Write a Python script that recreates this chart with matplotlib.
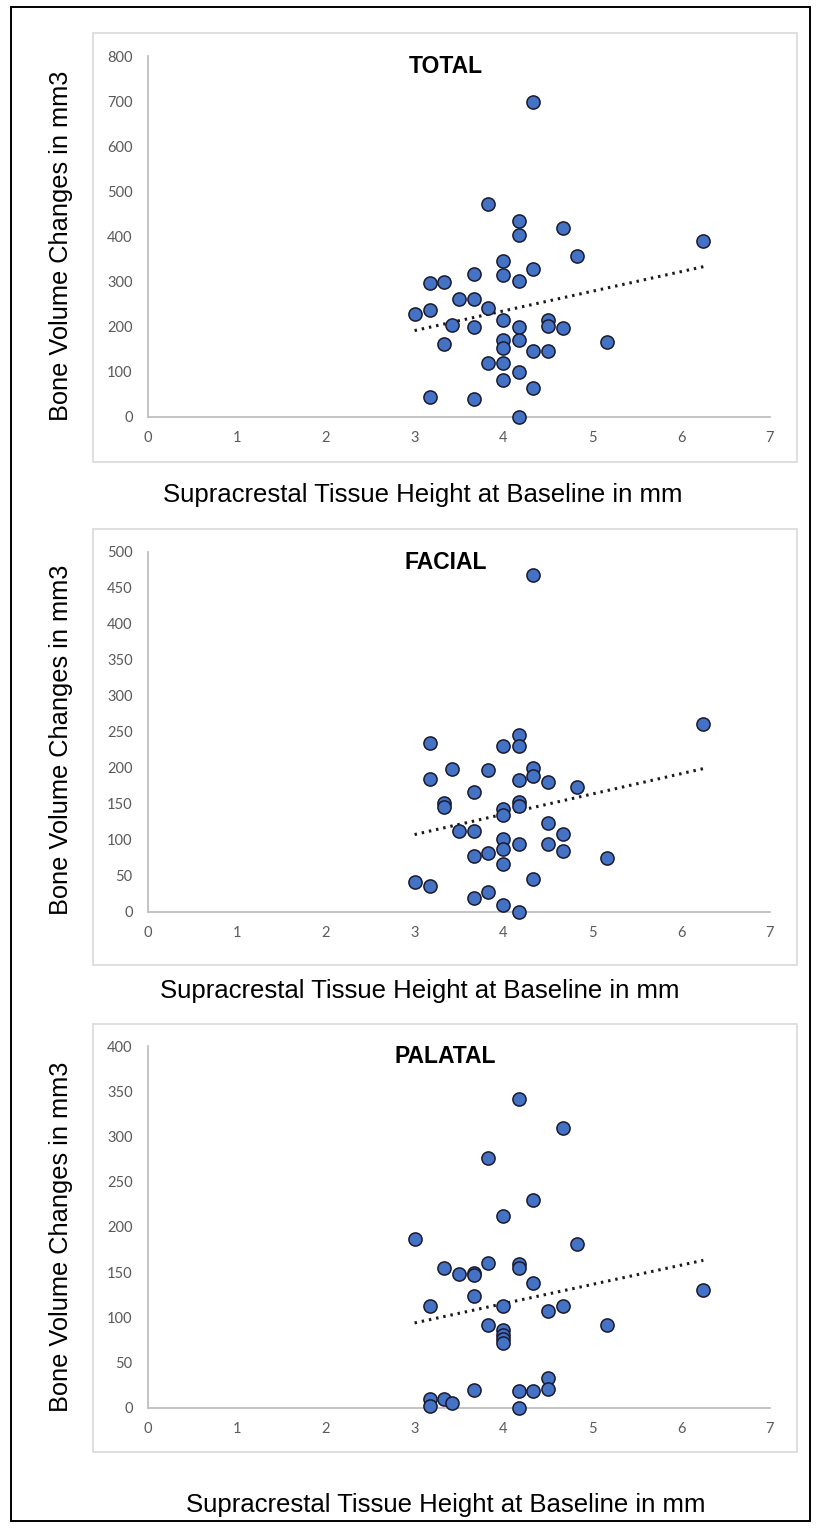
import numpy as np
import matplotlib
matplotlib.use("Agg")
import matplotlib.pyplot as plt
from matplotlib.patches import Rectangle

W, H = 820, 1528

# --- data ---
total_x = [3.0, 3.17, 3.17, 3.17, 3.33, 3.33, 3.42, 3.5,
           3.67, 3.67, 3.67, 3.67, 3.83, 3.83, 3.83,
           4.0, 4.0, 4.0, 4.0, 4.0, 4.0, 4.0,
           4.17, 4.17, 4.17, 4.17, 4.17, 4.17, 4.17,
           4.33, 4.33, 4.33, 4.33, 4.5, 4.5, 4.5,
           4.67, 4.67, 4.83, 5.17, 6.25]
total_y = [228, 298, 237, 44, 299, 161, 203, 261,
           317, 261, 200, 39, 473, 241, 120,
           345, 314, 215, 170, 153, 120, 81,
           435, 404, 302, 200, 170, 100, 1,
           698, 328, 146, 65, 214, 202, 146,
           418, 198, 356, 167, 390]

facial_x = [3.0, 3.17, 3.17, 3.17, 3.33, 3.33, 3.42, 3.5,
            3.67, 3.67, 3.67, 3.67, 3.83, 3.83, 3.83,
            4.0, 4.0, 4.0, 4.0, 4.0, 4.0, 4.0,
            4.17, 4.17, 4.17, 4.17, 4.17, 4.17, 4.17,
            4.33, 4.33, 4.33, 4.33, 4.5, 4.5, 4.5,
            4.67, 4.67, 4.83, 5.17, 6.25]
facial_y = [41, 234, 184, 35, 151, 145, 198, 112,
            166, 112, 77, 19, 197, 82, 27,
            230, 143, 134, 101, 87, 66, 9,
            245, 230, 183, 153, 147, 94, 0,
            468, 199, 189, 45, 180, 123, 94,
            108, 85, 173, 74, 261]

palatal_x = [3.0, 3.17, 3.17, 3.17, 3.33, 3.33, 3.42, 3.5,
             3.67, 3.67, 3.67, 3.67, 3.83, 3.83, 3.83,
             4.0, 4.0, 4.0, 4.0, 4.0, 4.0,
             4.17, 4.17, 4.17, 4.17, 4.17,
             4.33, 4.33, 4.33, 4.5, 4.5, 4.5,
             4.67, 4.67, 4.83, 5.17, 6.25]
palatal_y = [187, 113, 10, 2, 155, 10, 5, 148,
             149, 147, 124, 20, 276, 160, 92,
             212, 113, 86, 80, 76, 72,
             341, 159, 155, 18, 0,
             230, 138, 19, 107, 33, 21,
             309, 112, 181, 92, 130]

titles = ["TOTAL", "FACIAL", "PALATAL"]
y_max = [800, 500, 400]
y_step = [100, 50, 50]
x_ticks = [0, 1, 2, 3, 4, 5, 6, 7]

ylabel = "Bone Volume Changes in mm3"
xlabel = "Supracrestal Tissue Height at Baseline in mm"

# pixel layout of each panel: (axis y of 0, axis y of max, frame top, frame bottom,
#                              xlabel y, xlabel x, ylabel y)
panels = [
    (417, 56, 33, 462, 495, 423, 246),
    (911.7, 551.7, 529, 965, 991, 420, 740),
    (1407.7, 1046, 1024, 1452, 1505, 446, 1237),
]
x0_px, x7_px = 148, 770


def fx(px):
    return px / W


def fy(py):
    return 1 - py / H


fig = plt.figure(figsize=(W / 100, H / 100), dpi=100)

# outer black border
fig.patches.append(Rectangle((fx(11), fy(1521)), fx(810) - fx(11), fy(7) - fy(1521),
                             transform=fig.transFigure, fill=False,
                             edgecolor="black", linewidth=1.4))

data = [(total_x, total_y), (facial_x, facial_y), (palatal_x, palatal_y)]

for i, (xs, ys) in enumerate(data):
    y0, y1, ftop, fbot, xl_y, xl_x, yl_y = panels[i]

    # light grey chart frame
    fig.patches.append(Rectangle((fx(93), fy(fbot)), fx(797) - fx(93), fy(ftop) - fy(fbot),
                                 transform=fig.transFigure, fill=False,
                                 edgecolor="#d9d9d9", linewidth=1.2))

    ax = fig.add_axes([fx(x0_px), fy(y0), fx(x7_px) - fx(x0_px), fy(y1) - fy(y0)])
    ax.set_xlim(0, 7)
    ax.set_ylim(0, y_max[i])
    ax.set_xticks(x_ticks)
    ax.set_yticks(np.arange(0, y_max[i] + 1, y_step[i]))
    for s in ["top", "right"]:
        ax.spines[s].set_visible(False)
    for s in ["left", "bottom"]:
        ax.spines[s].set_color("#bfbfbf")
        ax.spines[s].set_linewidth(1.3)
    ax.tick_params(length=0, labelcolor="#595959", labelsize=10.5)
    ax.tick_params(axis="y", pad=11)
    ax.tick_params(axis="x", pad=10)
    for lab in ax.get_xticklabels() + ax.get_yticklabels():
        lab.set_fontfamily("Lato")

    xs = np.array(xs)
    ys = np.array(ys)
    ax.scatter(xs, ys, s=90, color="#4472C4", edgecolors="#1a1a2e",
               linewidths=1.1, zorder=3, clip_on=False)

    # linear trend line like Excel
    k, b = np.polyfit(xs, ys, 1)
    tx = np.array([xs.min(), xs.max()])
    ax.plot(tx, k * tx + b, color="#1a1a1a", linewidth=2.2,
            linestyle=(0, (0.8, 1.6)), zorder=2)

    ax.text(0.478, 0.97 if i == 0 else 0.97, titles[i], transform=ax.transAxes,
            ha="center", va="center", fontsize=16.5, fontweight="bold",
            family="Liberation Sans")

    fig.text(fx(xl_x), fy(xl_y), xlabel, ha="center", va="center",
             fontsize=18.5, family="Liberation Sans")
    fig.text(fx(61), fy(yl_y), ylabel, ha="center", va="center", rotation=90,
             fontsize=18.3, family="Liberation Sans")

fig.savefig("out.png", dpi=100)
